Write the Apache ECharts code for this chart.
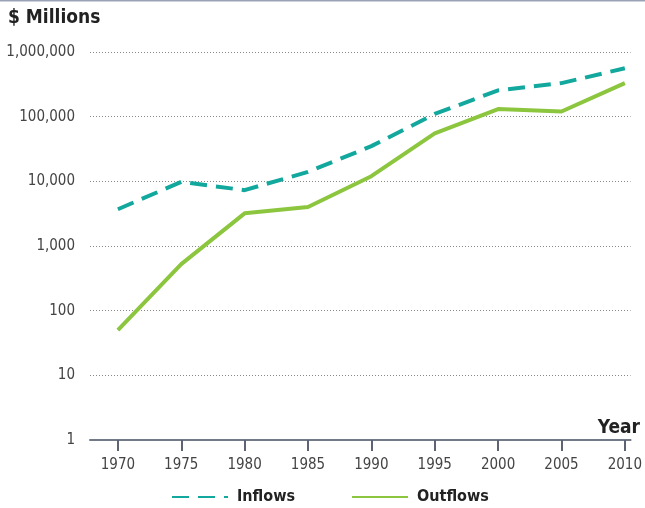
<!DOCTYPE html>
<html>
<head>
<meta charset="utf-8">
<script src="https://cdn.jsdelivr.net/npm/echarts@6/dist/echarts.min.js"></script>
<style>
  html, body { margin: 0; padding: 0; background: #fff; }
  #chart { width: 645px; height: 508px; }
</style>
</head>
<body>
<div id="chart"></div>
<script type="text/javascript">
// data ($ millions, log scale)
var years = [1970, 1975, 1980, 1985, 1990, 1995, 2000, 2005, 2010];
var inflows = [3700, 9800, 7300, 14000, 35000, 110000, 255000, 330000, 560000];
var outflows = [50, 525, 3200, 4000, 12000, 55000, 131000, 120000, 330000];
var yTicks = [1, 10, 100, 1000, 10000, 100000, 1000000];

var font = "'Liberation Sans Narrow', 'DejaVu Sans Condensed', 'Noto Sans', sans-serif";

function pairs(vals) {
  var out = [];
  for (var i = 0; i < years.length; i++) {
    out.push([years[i], vals[i]]);
  }
  return out;
}

var chart = echarts.init(document.getElementById('chart'));

var option = {
  animation: false,
  textStyle: { fontFamily: font },
  graphic: [
    { type: 'rect', shape: { x: 0, y: 0, width: 645, height: 1.5 }, style: { fill: '#9aa3b5' } },
    { type: 'text', left: 8, top: 9, style: { text: '$ Millions', font: 'bold 19px ' + font, fill: '#222' } },
    { type: 'text', right: 5, top: 419, style: { text: 'Year', font: 'bold 19px ' + font, fill: '#222' } }
  ],
  grid: { left: 90, right: 5, top: 52, bottom: 68 },
  legend: {
    top: 484,
    left: 166,
    itemWidth: 56,
    itemHeight: 14,
    itemGap: 56,
    itemStyle: { opacity: 0 },
    textStyle: { fontFamily: font, fontWeight: 'bold', fontSize: 16, color: '#222', padding: [0, 0, 0, 4] },
    data: ['Inflows', 'Outflows']
  },
  xAxis: {
    type: 'value',
    min: 1967.8,
    max: 2010.45,
    axisLine: { lineStyle: { color: '#737987', width: 2 } },
    axisTick: { show: true, inside: false, customValues: years, length: 11, lineStyle: { color: '#5d6373', width: 2 } },
    axisLabel: {
      customValues: years, color: '#444', fontSize: 15, margin: 18, fontFamily: font,
      formatter: function (v) { return String(v); }
    },
    splitLine: { show: false }
  },
  yAxis: {
    type: 'log',
    logBase: 10,
    min: 1,
    max: 1000000,
    axisLine: { show: false },
    axisTick: { show: false },
    axisLabel: {
      customValues: yTicks,
      color: '#444',
      fontSize: 15,
      margin: 15,
      fontFamily: font,
      formatter: function (v) { return v.toLocaleString('en-US'); }
    },
    splitLine: { lineStyle: { color: '#888', type: [1, 2], width: 1 } }
  },
  series: [
    {
      name: 'Inflows',
      type: 'line',
      symbol: 'none',
      data: pairs(inflows),
      itemStyle: { color: '#12a89d' },
      lineStyle: { color: '#12a89d', width: 4, type: [17, 9] },
      z: 3
    },
    {
      name: 'Outflows',
      type: 'line',
      symbol: 'none',
      data: pairs(outflows),
      itemStyle: { color: '#8cc63f' },
      lineStyle: { color: '#8cc63f', width: 4 },
      z: 2
    }
  ]
};

chart.setOption(option);
</script>
</body>
</html>
